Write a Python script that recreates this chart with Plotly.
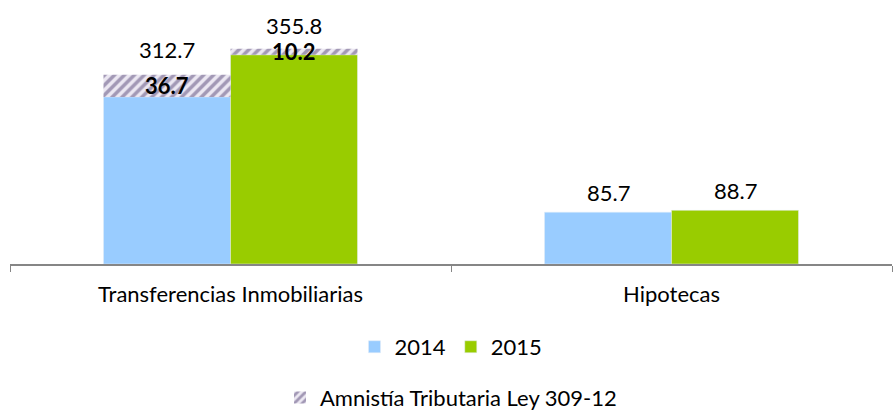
import plotly.graph_objects as go

categories = ["Transferencias Inmobiliarias", "Hipotecas"]
base_2014 = [276.0, 85.7]
base_2015 = [345.6, 88.7]
amnistia_2014 = [36.7]
amnistia_2015 = [10.2]
total_2014 = [312.7, 85.7]
total_2015 = [355.8, 88.7]

FONT = "Lato"
FS = 22
C2014 = "#99ccff"
C2015 = "#99cc00"
HATCH = "#574878"

hatch_marker = dict(color="white", line_width=0,
                    pattern=dict(shape="/", fgcolor=HATCH, bgcolor="#ece8f2",
                                 size=7, solidity=0.5))

fig = go.Figure()
fig.add_trace(go.Bar(x=categories, y=base_2014, name="2014", marker_color=C2014,
                     offsetgroup="a", legend="legend", hoverinfo="skip"))
fig.add_trace(go.Bar(x=categories, y=base_2015, name="2015", marker_color=C2015,
                     offsetgroup="b", legend="legend", hoverinfo="skip"))
fig.add_trace(go.Bar(x=categories[:1], y=amnistia_2014, base=base_2014[:1],
                     name="Amnistía Tributaria Ley 309-12", offsetgroup="a",
                     marker=hatch_marker, legend="legend2", hoverinfo="skip"))
fig.add_trace(go.Bar(x=categories[:1], y=amnistia_2015, base=base_2015[:1],
                     name="Amnistía Tributaria Ley 309-12", offsetgroup="b", showlegend=False,
                     marker=hatch_marker, legend="legend2", hoverinfo="skip"))

# totals above bars (extra lift where a hatched segment carries its own label)
for i, (cat, t14, t15) in enumerate(zip(categories, total_2014, total_2015)):
    y14 = 10 if i < len(amnistia_2014) else 4
    y15 = 8 if i < len(amnistia_2015) else 4
    for val, shift, ys in ((t14, -63.5, y14), (t15, 63.5, y15)):
        fig.add_annotation(x=cat, y=val, text="%.1f" % val, showarrow=False,
                           xshift=shift, yanchor="bottom", yshift=ys,
                           font=dict(family=FONT, size=FS, color="black"))

# bold amnesty values inside hatched segments
for vals, bases, shift in ((amnistia_2014, base_2014, -63.5), (amnistia_2015, base_2015, 63.5)):
    for cat, v, b in zip(categories, vals, bases):
        fig.add_annotation(x=cat, y=b + v / 2, text="<b>%.1f</b>" % v, showarrow=False,
                           xshift=shift, yanchor="middle",
                           font=dict(family=FONT, size=FS, color="black"))

fig.update_layout(
    width=893, height=420,
    margin=dict(l=10, r=1, t=31, b=139),
    paper_bgcolor="white", plot_bgcolor="white",
    barmode="group", bargap=0.424, bargroupgap=0,
    font=dict(family=FONT, size=FS, color="black"),
    showlegend=True,
    legend=dict(orientation="h", x=0.5, xanchor="center", y=-0.356, yanchor="middle",
                font=dict(family=FONT, size=FS), itemwidth=30, tracegroupgap=0),
    legend2=dict(orientation="h", x=0.5, xanchor="center", y=-0.574, yanchor="middle",
                 font=dict(family=FONT, size=FS), itemwidth=30),
)
fig.update_xaxes(showline=True, linecolor="#868686", linewidth=1.5, automargin=False,
                 ticks="outside", tickson="boundaries", ticklen=6, tickcolor="#868686",
                 tickfont=dict(family=FONT, size=FS, color="black"), ticklabelstandoff=10,
                 showgrid=False)
fig.update_yaxes(range=[0, 385], visible=False, showgrid=False, zeroline=False,
                 automargin=False)

fig.write_html("out.html", config={"displayModeBar": False},
               post_script="document.body.style.margin='0';document.body.style.overflow='hidden';")
